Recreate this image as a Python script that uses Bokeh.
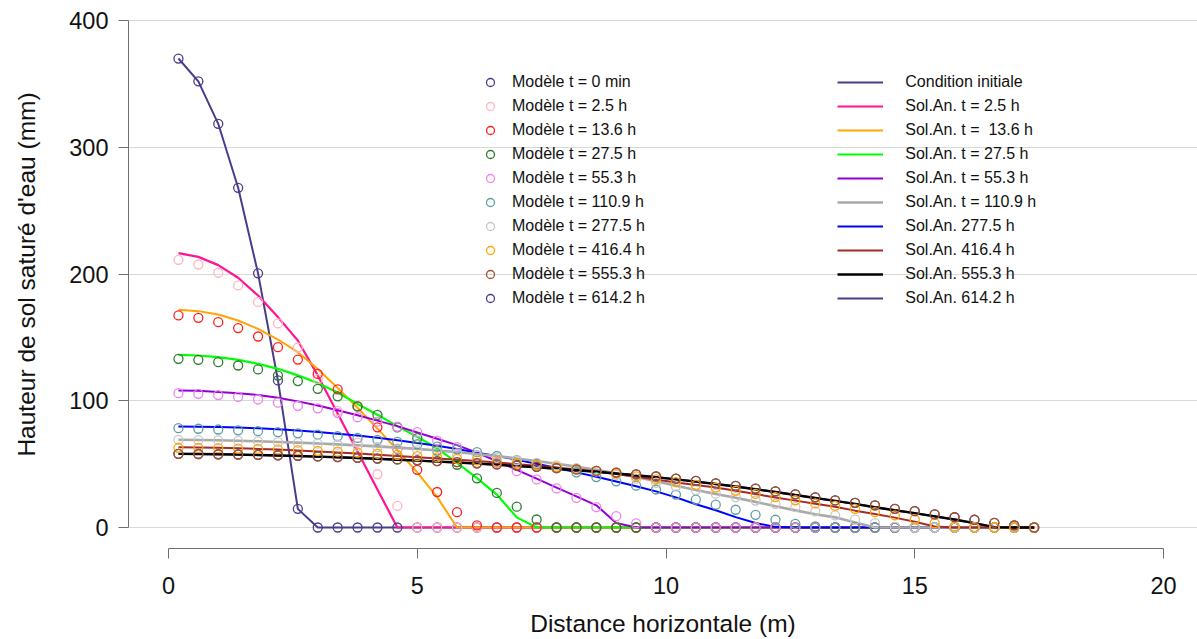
from bokeh.plotting import figure
from bokeh.models import Range1d, FixedTicker, Legend, LegendItem
from bokeh.embed import file_html
from bokeh.resources import INLINE

# ---------------- data ----------------
x = [0.2, 0.6, 1.0, 1.4, 1.8, 2.2, 2.6, 3.0, 3.4, 3.8, 4.2, 4.6, 5.0, 5.4, 5.8,
     6.2, 6.6, 7.0, 7.4, 7.8, 8.2, 8.6, 9.0, 9.4, 9.8, 10.2, 10.6, 11.0, 11.4,
     11.8, 12.2, 12.6, 13.0, 13.4, 13.8, 14.2, 14.6, 15.0, 15.4, 15.8, 16.2,
     16.6, 17.0, 17.4]

# model (circles)
mod_t0 = [370, 352, 318.5, 268, 200.5, 116, 14.7, 0, 0, 0, 0, 0, 0, 0, 0, 0, 0, 0, 0, 0, 0, 0,
          0, 0, 0, 0, 0, 0, 0, 0, 0, 0, 0, 0, 0, 0, 0, 0, 0, 0, 0, 0, 0, 0]
mod_2_5 = [211.2, 207.5, 201, 191, 178, 161, 142, 117, 92, 67, 42, 17, 0, 0, 0, 0, 0, 0, 0, 0,
           0, 0, 0, 0, 0, 0, 0, 0, 0, 0, 0, 0, 0, 0, 0, 0, 0, 0, 0, 0, 0, 0, 0, 0]
mod_13_6 = [167.3, 165.4, 162, 157.3, 150.7, 142.3, 132.5, 121.2, 109, 95.5, 79, 62, 45.5, 28,
            12.1, 1.6, 0, 0, 0, 0, 0, 0, 0, 0, 0, 0, 0, 0, 0, 0, 0, 0, 0, 0, 0, 0, 0, 0, 0, 0,
            0, 0, 0, 0]
mod_27_5 = [133.1, 132.3, 130.4, 127.8, 124.7, 119.9, 115.5, 109.4, 103.5, 95.6, 88.8, 79.1,
            70.5, 60.5, 49.5, 38.8, 27.3, 16.4, 6.3, 0, 0, 0, 0, 0, 0, 0, 0, 0, 0, 0, 0, 0, 0,
            0, 0, 0, 0, 0, 0, 0, 0, 0, 0, 0]
mod_55_3 = [106, 105.5, 104.5, 103, 101, 98.5, 96, 94, 90.5, 87, 83.5, 79.5, 75.2, 68.6, 63.4,
            57, 51, 44.4, 37.9, 30.8, 23.3, 16, 8.9, 3.2, 0, 0, 0, 0, 0, 0, 0, 0, 0, 0, 0, 0,
            0, 0, 0, 0, 0, 0, 0, 0]
mod_110_9 = [78.4, 77.9, 77.3, 76.7, 76, 75.2, 74.3, 73.2, 72, 70.7, 69.2, 67.5, 65.7, 63.8,
             61.7, 59.4, 56.4, 53.2, 50.3, 47, 43.5, 39.8, 36.4, 33, 30, 26, 22, 18, 14, 10,
             6.1, 2.9, 0.8, 0, 0, 0, 0, 0, 0, 0, 0, 0, 0, 0]
mod_277_5 = [69.2, 69, 68.7, 68.3, 67.9, 67.4, 66.8, 66.1, 65.3, 64.4, 63.4, 62.3, 61.1, 59.8,
             58.4, 56.8, 55, 53, 51, 49, 46.8, 44.3, 41.5, 38.5, 35.3, 32.3, 29.5, 26.7, 24,
             21.3, 18.7, 16, 12.8, 9.5, 6.2, 3.4, 0.5, 0, 0, 0, 0, 0, 0, 0]
mod_416_4 = [62.9, 62.8, 62.6, 62.3, 62, 61.6, 61.1, 60.5, 59.8, 59, 58.2, 57.3, 56.3, 55.3,
             54.2, 53, 51.8, 50.5, 49.1, 47.7, 46.1, 44.5, 42.5, 40.3, 38, 35.8, 33.6, 31.5,
             29, 26.5, 24, 21.5, 19, 17, 14.7, 12.1, 9.5, 6.3, 3.4, 0.8, 0, 0, 0, 0]
mod_555_3 = [58.1, 58, 57.8, 57.6, 57.3, 57, 56.6, 56.1, 55.6, 55, 54.4, 53.7, 53, 52.3, 51.5,
             50.7, 49.8, 48.9, 47.9, 46.9, 45.8, 44.6, 43.3, 41.9, 40.3, 38.6, 36.8, 34.8,
             32.8, 30.7, 28.5, 26.2, 23.8, 21.4, 19.5, 17.4, 14.7, 12.9, 10.3, 8.1, 6.1, 3.7,
             1.6, 0]
# t = 614.2 h is hidden beneath t = 555.3 h in the picture (drawn first, underneath)
mod_614_2 = mod_555_3

# analytic solutions (lines)
sol_2_5 = [216.5, 213.5, 207, 197, 183, 166, 147.5, 120, 90, 60, 30, 0, 0, 0, 0, 0, 0, 0, 0,
           0, 0, 0, 0, 0, 0, 0, 0, 0, 0, 0, 0, 0, 0, 0, 0, 0, 0, 0, 0, 0, 0, 0, 0, 0]
sol_13_6 = [171.7, 170.7, 168, 163.3, 156.7, 148.3, 138.3, 125, 110, 94.5, 78, 61, 43.5, 24,
            0, 0, 0, 0, 0, 0, 0, 0, 0, 0, 0, 0, 0, 0, 0, 0, 0, 0, 0, 0, 0, 0, 0, 0, 0, 0, 0,
            0, 0, 0]
sol_27_5 = [136.2, 135.7, 134.4, 132.3, 129.1, 125.2, 120, 114, 106.5, 97.5, 89, 80, 71.5,
            62.5, 51, 39, 26, 8, 0, 0, 0, 0, 0, 0, 0, 0, 0, 0, 0, 0, 0, 0, 0, 0, 0, 0, 0, 0,
            0, 0, 0, 0, 0, 0]
sol_55_3 = [108, 107.8, 107, 106, 104.5, 102.3, 99.5, 96.3, 92.5, 88.5, 84.3, 80, 75, 70, 65,
            59, 52.5, 45.5, 38.5, 31.5, 24.5, 17.5, 3.5, 0, 0, 0, 0, 0, 0, 0, 0, 0, 0, 0, 0,
            0, 0, 0, 0, 0, 0, 0, 0, 0]
sol_110_9 = [69.2, 69, 68.8, 68.5, 68, 67.5, 67, 66.3, 65.6, 64.8, 64, 63, 62, 60.8, 59.5,
             58, 56.3, 54.5, 52.5, 50.3, 48, 45.5, 42.7, 39.8, 36.5, 33, 29.6, 26.5, 23.5,
             20.2, 16.8, 13.5, 10.5, 8, 4, 0, 0, 0, 0, 0, 0, 0, 0, 0]
sol_277_5 = [79.7, 79.5, 79.3, 78.9, 78.3, 77.5, 76.6, 75.4, 74, 72.6, 70.8, 68.8, 66.7, 64.5,
             62, 59, 56.5, 53.5, 50.3, 47, 43.5, 40, 36.3, 32.5, 28.5, 23.8, 18.3, 13.6, 8.2,
             3.5, 0.5, 0, 0, 0, 0, 0, 0, 0, 0, 0, 0, 0, 0, 0]
sol_416_4 = [63.4, 63.2, 62.9, 62.5, 62, 61.5, 60.8, 60, 59.2, 58.3, 57.4, 56.5, 55.5, 54.5,
             53.5, 52.4, 51.2, 50, 48.7, 47.3, 45.8, 44.2, 42.2, 40, 37.8, 35.5, 33.5, 31.5,
             29, 26.4, 23.7, 21.2, 18.8, 16.3, 13.3, 10.7, 7.8, 4.6, 0.8, 0, 0, 0, 0, 0]
sol_555_3 = [58.1, 58, 57.8, 57.5, 57.2, 56.8, 56.4, 55.9, 55.4, 54.8, 54.2, 53.5, 52.8, 52,
             51.3, 50.4, 49.5, 48.5, 47.5, 46.4, 45.2, 44, 42.6, 41.2, 39.7, 38, 36.2, 34.3,
             32.3, 30.2, 28, 25.6, 23.3, 21, 18.6, 16, 13.6, 11.3, 8.8, 6.3, 3.4, 0.3, 0, 0]
sol_614_2 = sol_555_3

model_labels = ["Modèle t = 0 min", "Modèle t = 2.5 h", "Modèle t = 13.6 h",
                "Modèle t = 27.5 h", "Modèle t = 55.3 h", "Modèle t = 110.9 h",
                "Modèle t = 277.5 h", "Modèle t = 416.4 h", "Modèle t = 555.3 h",
                "Modèle t = 614.2 h"]
model_series = [mod_t0, mod_2_5, mod_13_6, mod_27_5, mod_55_3, mod_110_9, mod_277_5,
                mod_416_4, mod_555_3, mod_614_2]
model_colors = ["#483D8B", "#FFB6C1", "#FF2020", "#2E7D32", "#EE82EE", "#5F9EA0",
                "#C8C8C8", "#FFA500", "#A0522D", "#483D8B"]
model_draw_order = [9, 0, 1, 2, 3, 4, 5, 6, 7, 8]

sol_labels = ["Condition initiale", "Sol.An. t = 2.5 h", "Sol.An. t =  13.6 h",
              "Sol.An. t = 27.5 h", "Sol.An. t = 55.3 h", "Sol.An. t = 110.9 h",
              "Sol.An. 277.5 h", "Sol.An. 416.4 h", "Sol.An. 555.3 h", "Sol.An. 614.2 h"]
sol_series = [mod_t0, sol_2_5, sol_13_6, sol_27_5, sol_55_3, sol_110_9, sol_277_5,
              sol_416_4, sol_555_3, sol_614_2]
sol_colors = ["#483D8B", "#FF1493", "#FFA500", "#00FF00", "#9400D3", "#A9A9A9",
              "#0000FF", "#A52A2A", "#000000", "#483D8B"]
sol_widths = [2, 2.2, 2, 2.2, 2, 2.6, 2, 2, 2.4, 2]
sol_draw_order = [9, 0, 1, 2, 3, 4, 6, 5, 7, 8]

# ---------------- layout ----------------
W, H = 1197, 639
PX_PER_X = 49.75
PX_PER_Y = 1.2675
X0_SCREEN = 168.0
Y0_SCREEN = 527.0
FRAME_L, FRAME_R, FRAME_T, FRAME_B = 128.0, float(W), 0.0, 548.0

p = figure(width=W, height=H, output_backend="svg", toolbar_location=None,
           x_range=Range1d((FRAME_L - X0_SCREEN) / PX_PER_X, (FRAME_R - X0_SCREEN) / PX_PER_X),
           y_range=Range1d((Y0_SCREEN - FRAME_B) / PX_PER_Y, (Y0_SCREEN - FRAME_T) / PX_PER_Y),
           min_border_left=int(FRAME_L), min_border_right=0, min_border_top=0,
           min_border_bottom=int(H - FRAME_B))
p.outline_line_color = None
p.background_fill_color = "white"
p.border_fill_color = "white"

p.xgrid.visible = False
p.ygrid.ticker = FixedTicker(ticks=[0, 100, 200, 300, 400])
p.ygrid.grid_line_color = "#D9D9D9"
p.ygrid.grid_line_width = 1

FONT = "Liberation Sans"
for ax, bounds, ticks in ((p.xaxis[0], (0, 20), [0, 5, 10, 15, 20]),
                          (p.yaxis[0], (0, 400), [0, 100, 200, 300, 400])):
    ax.bounds = bounds
    ax.ticker = FixedTicker(ticks=ticks)
    ax.axis_line_color = "#707070"
    ax.major_tick_line_color = "#707070"
    ax.major_tick_out = 10
    ax.major_tick_in = 0
    ax.minor_tick_line_color = None
    ax.major_label_text_font = FONT
    ax.major_label_text_font_size = "23.5px"
    ax.major_label_text_color = "#111111"
    ax.axis_label_text_font = FONT
    ax.axis_label_text_font_size = "24.5px"
    ax.axis_label_text_font_style = "normal"
    ax.axis_label_text_color = "#111111"

p.xaxis.axis_label = "Distance horizontale (m)"
p.yaxis.axis_label = "Hauteur de sol saturé d'eau (mm)"
p.xaxis.major_label_standoff = 18
p.xaxis.axis_label_standoff = 13
p.yaxis.major_label_standoff = 10
p.yaxis.axis_label_standoff = 26

# ---------------- glyphs ----------------
line_renderers = [None] * len(sol_series)
for i in sol_draw_order:
    ys = sol_series[i]
    line_renderers[i] = p.line(x[:len(ys)], ys, line_color=sol_colors[i],
                               line_width=sol_widths[i])

scatter_renderers = [None] * len(model_series)
for i in model_draw_order:
    ys = model_series[i]
    scatter_renderers[i] = p.scatter(x[:len(ys)], ys, marker="circle", size=9,
                                     fill_color=None, line_color=model_colors[i],
                                     line_width=1.3)

# ---------------- legends ----------------
common = dict(padding=0, margin=0, spacing=4, glyph_height=20, label_height=20,
              border_line_alpha=0, background_fill_alpha=0,
              label_text_font=FONT, label_text_font_size="16px",
              label_text_color="#111111")

LEG_BOTTOM = 307.7
leg1 = Legend(items=[LegendItem(label=l, renderers=[r])
                     for l, r in zip(model_labels, scatter_renderers)],
              location=(480 - FRAME_L, FRAME_B - LEG_BOTTOM),
              glyph_width=20, label_standoff=12, **common)
leg2 = Legend(items=[LegendItem(label=l, renderers=[r])
                     for l, r in zip(sol_labels, line_renderers)],
              location=(837.3 - FRAME_L, FRAME_B - LEG_BOTTOM),
              glyph_width=46, label_standoff=22, **common)
p.add_layout(leg1)
p.add_layout(leg2)

open("out.html", "w").write(file_html(p, INLINE))
